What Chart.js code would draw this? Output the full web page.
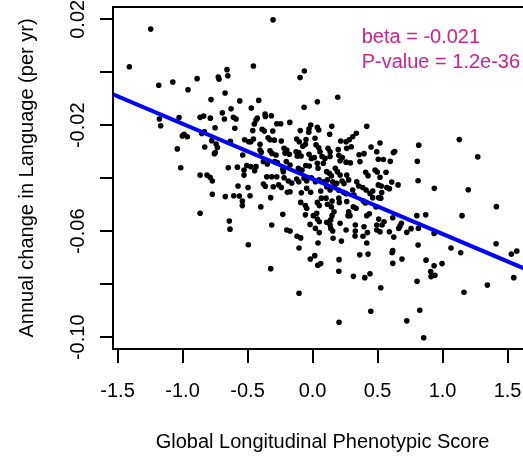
<!DOCTYPE html>
<html>
<head>
<meta charset="utf-8">
<script src="https://cdn.jsdelivr.net/npm/chart.js@4.4.0/dist/chart.umd.min.js"></script>
<style>
  html, body { margin: 0; padding: 0; background: #fff; }
</style>
</head>
<body>
<canvas id="c" width="523" height="456"></canvas>
<script>
// values (one entry per subject)
const phenoScore = [
  -1.245, -1.409, -1.183, -1.075, -0.958, -0.888, -0.725, -0.719, -0.658, -0.652,
  -0.673, -0.781, -0.560, -0.627, -0.694, -1.027, -1.178, -0.865, -0.837, -0.786,
  -0.678, -0.609, -0.588, -0.304, -0.455, -0.096, -0.063, -0.414, -0.471, -0.065,
  0.037, 0.194, -0.365, -0.363, -0.317, -0.425, 0.519, 0.817, 1.129, 1.271,
  0.622, 0.632, 0.545, 0.598, 0.806, 0.565, 0.519, 0.812, 0.609, 0.658,
  0.571, 0.591, 0.529, 0.937, 1.198, 0.532, 0.525, 1.414, 0.802, 0.871,
  1.150, 0.617, 0.550, 0.535, 0.683, 0.673, 0.663, 0.758, 0.814, 0.591,
  0.725, 0.935, 0.625, 0.812, 1.065, 1.140, 1.412, 1.529, 1.571, 0.617,
  0.612, 0.617, 0.688, 0.873, 0.935, 0.996, 0.909, 0.912, 0.942, 0.804,
  0.525, 1.165, 1.345, 1.548, 0.825, 0.725, 0.855, -0.494, -0.322, -0.173,
  -0.119, -0.091, -0.104, 0.052, 0.042, -0.017, 0.017, 0.040, 0.063, 0.158,
  0.222, 0.258, 0.329, 0.327, 0.388, 0.422, 0.417, 0.494, 0.363, 0.427,
  0.204, 0.202, 0.314, 0.402, 0.442, -0.104, 0.448, 0.204, -1.168, -0.598,
  -0.750, -1.002, -0.988, -0.963, -0.852, -0.832, -0.775, -0.829, -0.742, -0.732,
  -0.748, -0.755, -0.632, -1.040, -0.537, -1.014, -0.865, -0.812, -0.788, -0.771,
  -0.648, -0.578, -0.527, -0.527, -0.573, -0.771, -0.671, -0.606, -0.563, -0.540,
  -0.540, -0.865, -0.640, -0.635, -0.435, -0.448, -0.275, -0.245, -0.175, -0.014,
  -0.027, -0.029, 0.037, 0.048, -0.094, 0.148, 0.132, 0.417, -0.388, -0.371,
  -0.306, -0.460, 0.337, 0.309, 0.283, 0.217, 0.258, -0.122, -0.102, -0.050,
  0.019, -0.522, -0.491, -0.475, -0.455, -0.342, -0.327, -0.294, -0.240, -0.404,
  -0.075, -0.055, 0.027, 0.048, 0.058, 0.119, 0.135, 0.198, 0.263, 0.298,
  0.450, 0.494, 0.358, 0.396, -0.404, -0.394, -0.327, -0.312, -0.281, -0.219,
  -0.198, -0.212, -0.178, -0.117, -0.088, -0.127, -0.106, -0.027, -0.009, 0.014,
  0.073, 0.096, 0.135, 0.202, 0.229, 0.212, 0.258, 0.291, 0.365, 0.506,
  -0.506, -0.475, -0.435, -0.445, -0.378, -0.348, -0.291, -0.271, -0.202, -0.173,
  -0.229, -0.225, -0.109, -0.081, -0.096, -0.052, -0.025, 0.037, 0.042, 0.083,
  0.109, 0.129, 0.145, 0.175, 0.191, 0.212, 0.263, 0.278, 0.409, 0.427,
  0.481, 0.498, -0.352, -0.314, -0.275, -0.219, -0.186, -0.160, -0.122, -0.106,
  -0.065, -0.045, -0.009, 0.022, 0.050, 0.083, 0.114, 0.155, 0.171, 0.186,
  0.227, 0.242, 0.340, 0.355, 0.386, 0.412, 0.463, 0.506, -0.496, -0.378,
  -0.363, -0.302, -0.260, -0.240, -0.173, -0.086, -0.045, -0.014, 0.063, 0.109,
  0.135, 0.202, 0.237, 0.258, 0.309, 0.319, -0.481, -0.398, -0.322, -0.229,
  -0.194, -0.091, -0.055, -0.045, -0.055, 0.006, 0.032, 0.037, 0.068, 0.052,
  0.104, 0.114, 0.150, 0.145, 0.202, 0.206, 0.165, 0.150, 0.140, 0.109,
  0.263, 0.278, 0.273, 0.288, 0.314, 0.335, 0.391, 0.406, 0.442, 0.463,
  0.488, 0.417, 0.437, 0.509, 0.037, 0.052, -0.314, -0.198, -0.019, 0.022,
  0.135, 0.140, 0.155, 0.329, 0.396, 0.494, 0.509, 0.519, 0.212
];
const langChange = [
  0.0163, 0.0021, -0.0049, -0.0037, -0.0066, -0.0024, -0.0018, -0.0026, 0.0010, -0.0013,
  -0.0078, -0.0103, -0.0108, -0.0138, -0.0153, -0.0171, -0.0176, -0.0170, -0.0165, -0.0173,
  -0.0176, -0.0170, -0.0176, 0.0198, 0.0024, -0.0020, 0.0005, -0.0106, -0.0135, -0.0132,
  -0.0111, -0.0094, -0.0158, -0.0167, -0.0164, -0.0173, -0.0267, -0.0275, -0.0254, -0.0319,
  -0.0303, -0.0299, -0.0329, -0.0336, -0.0336, -0.0377, -0.0396, -0.0409, -0.0414, -0.0425,
  -0.0435, -0.0439, -0.0429, -0.0438, -0.0443, -0.0454, -0.0475, -0.0507, -0.0541, -0.0538,
  -0.0541, -0.0549, -0.0564, -0.0576, -0.0570, -0.0580, -0.0589, -0.0590, -0.0589, -0.0602,
  -0.0604, -0.0608, -0.0622, -0.0652, -0.0663, -0.0681, -0.0647, -0.0686, -0.0675, -0.0673,
  -0.0681, -0.0721, -0.0705, -0.0709, -0.0730, -0.0722, -0.0752, -0.0771, -0.0766, -0.0789,
  -0.0813, -0.0830, -0.0803, -0.0775, -0.0898, -0.0938, -0.1002, -0.0651, -0.0741, -0.0599,
  -0.0619, -0.0625, -0.0663, -0.0605, -0.0644, -0.0705, -0.0692, -0.0728, -0.0722, -0.0626,
  -0.0637, -0.0595, -0.0599, -0.0618, -0.0619, -0.0605, -0.0644, -0.0595, -0.0689, -0.0686,
  -0.0707, -0.0751, -0.0770, -0.0775, -0.0760, -0.0834, -0.0902, -0.0943, -0.0202, -0.0211,
  -0.0209, -0.0240, -0.0234, -0.0243, -0.0231, -0.0225, -0.0258, -0.0282, -0.0271, -0.0284,
  -0.0303, -0.0307, -0.0260, -0.0289, -0.0312, -0.0360, -0.0388, -0.0388, -0.0396, -0.0410,
  -0.0360, -0.0358, -0.0369, -0.0388, -0.0429, -0.0460, -0.0469, -0.0466, -0.0467, -0.0486,
  -0.0503, -0.0532, -0.0561, -0.0592, -0.0180, -0.0195, -0.0194, -0.0194, -0.0189, -0.0199,
  -0.0213, -0.0226, -0.0208, -0.0218, -0.0220, -0.0204, -0.0234, -0.0204, -0.0215, -0.0222,
  -0.0222, -0.0220, -0.0230, -0.0243, -0.0255, -0.0259, -0.0262, -0.0252, -0.0262, -0.0254,
  -0.0249, -0.0255, -0.0262, -0.0262, -0.0252, -0.0247, -0.0255, -0.0256, -0.0259, -0.0272,
  -0.0279, -0.0272, -0.0274, -0.0285, -0.0300, -0.0287, -0.0300, -0.0292, -0.0287, -0.0281,
  -0.0282, -0.0300, -0.0311, -0.0307, -0.0293, -0.0302, -0.0296, -0.0306, -0.0312, -0.0287,
  -0.0293, -0.0305, -0.0309, -0.0317, -0.0316, -0.0300, -0.0303, -0.0309, -0.0325, -0.0322,
  -0.0318, -0.0325, -0.0318, -0.0313, -0.0322, -0.0334, -0.0339, -0.0342, -0.0337, -0.0328,
  -0.0352, -0.0356, -0.0356, -0.0372, -0.0337, -0.0346, -0.0337, -0.0341, -0.0337, -0.0350,
  -0.0365, -0.0375, -0.0362, -0.0369, -0.0377, -0.0352, -0.0354, -0.0343, -0.0362, -0.0343,
  -0.0375, -0.0381, -0.0391, -0.0362, -0.0375, -0.0388, -0.0388, -0.0406, -0.0377, -0.0390,
  -0.0369, -0.0376, -0.0394, -0.0394, -0.0394, -0.0398, -0.0410, -0.0418, -0.0403, -0.0413,
  -0.0400, -0.0410, -0.0398, -0.0413, -0.0406, -0.0413, -0.0406, -0.0413, -0.0425, -0.0419,
  -0.0410, -0.0420, -0.0413, -0.0429, -0.0435, -0.0444, -0.0448, -0.0425, -0.0435, -0.0422,
  -0.0430, -0.0432, -0.0425, -0.0435, -0.0451, -0.0455, -0.0438, -0.0453, -0.0448, -0.0432,
  -0.0444, -0.0445, -0.0453, -0.0458, -0.0444, -0.0463, -0.0466, -0.0508, -0.0473, -0.0536,
  -0.0453, -0.0491, -0.0503, -0.0513, -0.0538, -0.0541, -0.0532, -0.0491, -0.0475, -0.0503,
  -0.0475, -0.0498, -0.0486, -0.0508, -0.0475, -0.0491, -0.0526, -0.0541, -0.0557, -0.0566,
  -0.0488, -0.0526, -0.0541, -0.0541, -0.0508, -0.0513, -0.0486, -0.0493, -0.0457, -0.0473,
  -0.0508, -0.0541, -0.0534, -0.0473, -0.0554, -0.0564, -0.0576, -0.0595, -0.0574, -0.0589,
  -0.0576, -0.0589, -0.0599, -0.0576, -0.0583, -0.0576, -0.0554, -0.0602, -0.0570
];

// fitted line, end points read at the plot edges
const fitX = [-1.535, 1.688];
const fitY = [-0.0083, -0.0753];

// visible x window; the original plot region runs on to 1.688, past the crop
const xMin = -1.535, xMax = 1.619, xPlotEnd = 1.688;
const yMin = -0.10442, yMax = 0.02464;

const xTicks = [-1.5, -1.0, -0.5, 0.0, 0.5, 1.0, 1.5];
const xTickLabels = ['-1.5', '-1.0', '-0.5', '0.0', '0.5', '1.0', '1.5'];
const yTicks = [0.02, 0.0, -0.02, -0.04, -0.06, -0.08, -0.10];
const yTickLabels = ['0.02', '', '-0.02', '', '-0.06', '', '-0.10'];

const statLines = ['beta = -0.021', 'P-value = 1.2e-36'];
const statX = 0.378;
const statY = [0.0110, 0.0015];

const xTitle = 'Global Longitudinal Phenotypic Score';
const yTitle = 'Annual change in Language (per yr)';

const FONT = '20px "Liberation Sans", Arial, sans-serif';
const STAT_COLOR = '#D02090';

// R-style frame: box, outward ticks, rotated y labels, titles, annotation
const rFrame = {
  id: 'rFrame',
  afterDatasetsDraw(chart) {
    const { ctx, chartArea: area } = chart;
    const xs = chart.scales.x, ys = chart.scales.y;
    const boxRight = xs.getPixelForValue(xPlotEnd);
    ctx.save();
    ctx.strokeStyle = '#000';
    ctx.lineWidth = 2;
    ctx.strokeRect(area.left, area.top, boxRight - area.left, area.bottom - area.top);
    ctx.beginPath();
    xTicks.forEach(v => {
      const px = Math.round(xs.getPixelForValue(v));
      ctx.moveTo(px, area.bottom);
      ctx.lineTo(px, area.bottom + 14);
    });
    yTicks.forEach(v => {
      const py = Math.round(ys.getPixelForValue(v));
      ctx.moveTo(area.left, py);
      ctx.lineTo(area.left - 13, py);
    });
    ctx.stroke();

    ctx.fillStyle = '#000';
    ctx.font = FONT;
    ctx.textAlign = 'center';
    ctx.textBaseline = 'alphabetic';
    xTicks.forEach((v, i) => ctx.fillText(xTickLabels[i], xs.getPixelForValue(v), area.bottom + 48));
    yTicks.forEach((v, i) => {
      if (!yTickLabels[i]) return;
      ctx.save();
      ctx.translate(area.left - 29, ys.getPixelForValue(v));
      ctx.rotate(-Math.PI / 2);
      ctx.fillText(yTickLabels[i], 0, 0);
      ctx.restore();
    });

    ctx.fillText(xTitle, (area.left + boxRight) / 2, area.bottom + 99);
    ctx.save();
    ctx.translate(area.left - 80.5, (area.top + area.bottom) / 2);
    ctx.rotate(-Math.PI / 2);
    ctx.fillText(yTitle, 0, 0);
    ctx.restore();

    ctx.fillStyle = STAT_COLOR;
    ctx.textAlign = 'left';
    statLines.forEach((t, i) => ctx.fillText(t, xs.getPixelForValue(statX), ys.getPixelForValue(statY[i])));
    ctx.restore();
  }
};

const points = phenoScore.map((x, i) => ({ x: x, y: langChange[i] }));
const fit = fitX.map((x, i) => ({ x: x, y: fitY[i] }));

new Chart(document.getElementById('c'), {
  type: 'scatter',
  data: {
    datasets: [
      {
        data: fit, showLine: true, borderColor: '#0000FF', borderWidth: 4,
        pointRadius: 0, order: 0
      },
      {
        data: points, backgroundColor: '#000', borderWidth: 0,
        pointRadius: 2.8, order: 1
      }
    ]
  },
  options: {
    responsive: false,
    animation: false,
    events: [],
    layout: { autoPadding: false, padding: { top: 7, right: 0, bottom: 0, left: 0 } },
    plugins: { legend: { display: false }, tooltip: { enabled: false } },
    scales: {
      x: {
        type: 'linear', min: xMin, max: xMax,
        grid: { display: false }, border: { display: false }, ticks: { display: false },
        afterFit: s => { s.height = 107; }
      },
      y: {
        type: 'linear', min: yMin, max: yMax,
        grid: { display: false }, border: { display: false }, ticks: { display: false },
        afterFit: s => { s.width = 113; }
      }
    }
  },
  plugins: [rFrame]
});
</script>
</body>
</html>
